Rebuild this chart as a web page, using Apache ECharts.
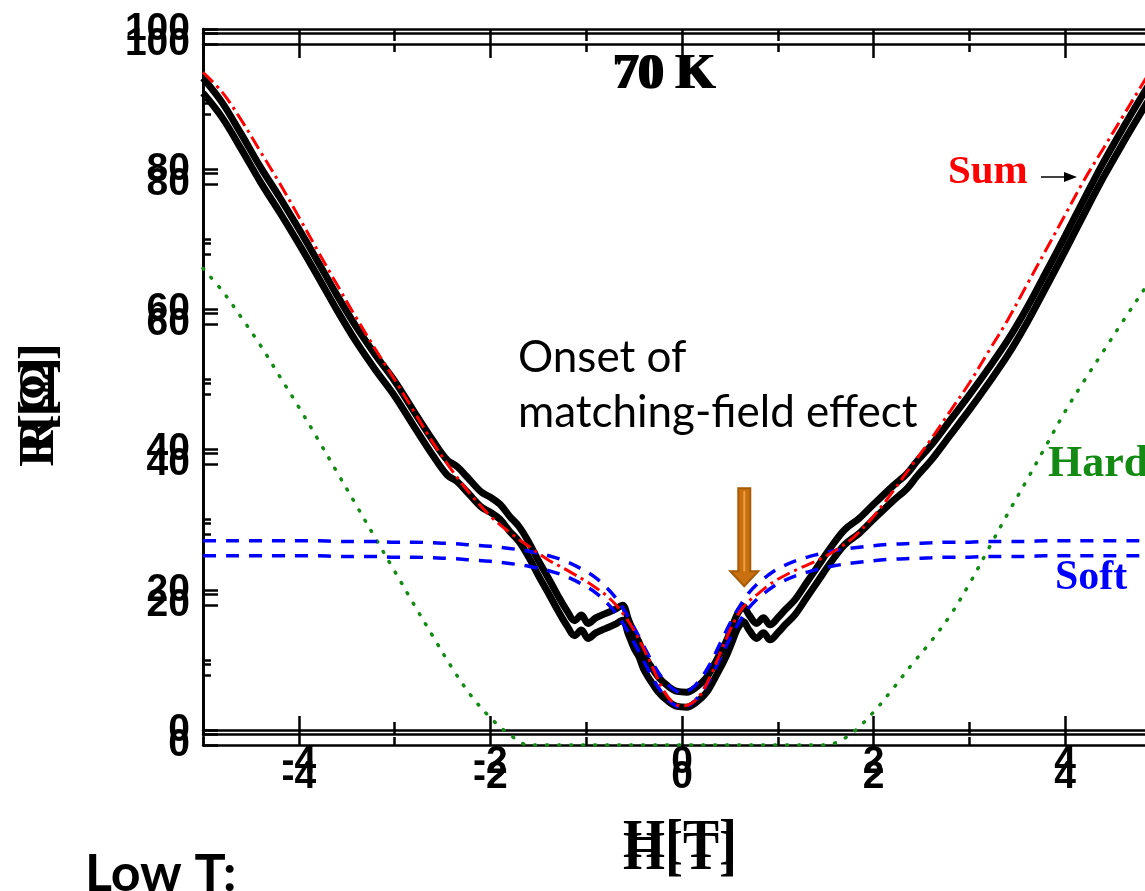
<!DOCTYPE html>
<html>
<head>
<meta charset="utf-8">
<script src="https://cdn.jsdelivr.net/npm/echarts@6/dist/echarts.min.js"></script>
<style>
html, body { margin: 0; padding: 0; background: #fff; overflow: hidden; }
/* the original figure is cut off on the right, so the chart is wider than the window */
#chart { width: 1180px; height: 891px; }
</style>
</head>
<body>
<div id="chart"></div>
<script>
// measured R(H) curve, black
var hMeas = [-5, -4.8, -4.6, -4.4, -4.2, -4, -3.8, -3.6, -3.4, -3.2, -3, -2.8, -2.6, -2.45, -2.35, -2.25, -2.1, -2.0, -1.9, -1.8, -1.7, -1.6, -1.5, -1.4, -1.3, -1.2, -1.12, -1.05, -0.98, -0.9, -0.8, -0.7, -0.62, -0.56, -0.5, -0.45, -0.4, -0.33, -0.25, -0.15, -0.05, 0.05, 0.15, 0.25, 0.33, 0.4, 0.46, 0.52, 0.58, 0.64, 0.7, 0.78, 0.85, 0.92, 1.0, 1.08, 1.18, 1.3, 1.42, 1.55, 1.7, 1.85, 2.0, 2.2, 2.35, 2.45, 2.6, 2.8, 3.0, 3.2, 3.4, 3.6, 3.8, 4.0, 4.2, 4.4, 4.6, 4.8, 5.0];
var rMeas = [93, 89.5, 85, 80.3, 76, 71.5, 66.8, 62, 57.5, 53.5, 49.8, 45.5, 41.3, 38.5, 37.6, 36.2, 34, 33.2, 32.2, 30.5, 29, 26.8, 24.2, 21.8, 19.3, 17, 15.6, 16.4, 15.2, 16, 16.6, 17.2, 17.8, 15.8, 13.8, 12.6, 10.8, 9.2, 7.6, 6.3, 5.5, 5.4, 6.1, 7.4, 9.2, 11, 12.6, 14.6, 16.6, 17.6, 16.4, 15.2, 16, 15, 16, 17.2, 18.6, 21, 23.4, 26, 28.6, 30.2, 32.2, 34.8, 36.6, 38.3, 40.6, 44.2, 47.8, 51.6, 55.6, 60.2, 65.3, 70.5, 75.8, 81, 85.8, 90.4, 94.8];

// fit curves: sum, soft part, hard part
var hFit = [-5, -4.8, -4.6, -4.4, -4.2, -4, -3.8, -3.6, -3.4, -3.2, -3, -2.8, -2.6, -2.4, -2.2, -2, -1.8, -1.6, -1.4, -1.2, -1, -0.9, -0.8, -0.7, -0.6, -0.5, -0.4, -0.3, -0.2, -0.1, 0, 0.1, 0.2, 0.3, 0.4, 0.5, 0.6, 0.7, 0.8, 0.9, 1, 1.2, 1.4, 1.6, 1.8, 2, 2.2, 2.4, 2.6, 2.8, 3, 3.2, 3.4, 3.6, 3.8, 4, 4.2, 4.4, 4.6, 4.8, 5];
var rSum = [93.8, 91, 87, 82.5, 78, 73.2, 68.3, 63.5, 58.8, 54.3, 50, 45.5, 41, 37, 33.5, 30.5, 28.2, 26.2, 24.3, 22.8, 21.2, 20.3, 19.3, 18, 16.3, 14.2, 11.6, 8.7, 5.8, 4.0, 3.4, 3.8, 5.2, 7.8, 11, 14.2, 16.8, 18.4, 19.5, 20.6, 21.5, 22.9, 24.1, 25.6, 27.6, 30.5, 34, 37.8, 41.5, 45.5, 49.5, 54, 58.5, 63.5, 68.5, 73.5, 78.5, 83, 87.5, 92, 96.5];
var rSoft = [27, 27, 27, 27, 27, 27, 27, 26.9, 26.9, 26.9, 26.8, 26.8, 26.7, 26.6, 26.4, 26.2, 25.9, 25.5, 24.9, 24.0, 22.6, 21.7, 20.5, 19.0, 17.0, 14.6, 12.0, 9.4, 7.3, 5.9, 5.3, 5.9, 7.4, 9.6, 12.4, 15.2, 17.6, 19.6, 21.0, 22.1, 23.0, 24.2, 25.0, 25.6, 26.0, 26.3, 26.5, 26.6, 26.7, 26.8, 26.8, 26.9, 26.9, 26.9, 27, 27, 27, 27, 27, 27, 27];
var rHard = [68, 64.8, 61, 57, 52.6, 48.2, 43.6, 38.9, 34.2, 29.5, 24.8, 20.1, 15.5, 11, 7, 3.9, 1.5, 0, 0, 0, 0, 0, 0, 0, 0, 0, 0, 0, 0, 0, 0, 0, 0, 0, 0, 0, 0, 0, 0, 0, 0, 0, 0, 0.3, 2, 4.7, 8, 11.5, 14.8, 18.5, 23, 28, 33, 37.8, 42.7, 47.6, 52, 56.2, 60.4, 64.5, 68.5];

// ticks
var xMajor = [-4, -2, 0, 2, 4];
var xMinor = [-5, -3, -1, 1, 3, 5];

function pairs (xs, ys) {
    return xs.map(function (x, i) { return [x, ys[i]] })
}

var chart = echarts.init(document.getElementById('chart'))

// the figure is printed twice (plus a faint third frame), slightly shifted
var frames = [
    { top: 29, labels: true },
    { top: 33, labels: false },
    { top: 44, labels: true }
]
var grid = [], xAxis = [], yAxis = []
var lineSt = { color: '#000', width: 2.5 }
var labelSt = { fontSize: 39, fontWeight: 'bold', fontFamily: 'Liberation Sans, Arial', color: '#000' }

frames.forEach(function (f, i) {
    grid.push({ left: 203, top: f.top, width: 958, height: 701 })
    ;['bottom', 'top'].forEach(function (pos) {
        xAxis.push({
            gridIndex: i, type: 'value', min: -5, max: 5, position: pos,
            axisLine: { onZero: false, lineStyle: lineSt },
            axisTick: { inside: true, length: 14, customValues: xMajor, lineStyle: lineSt },
            axisLabel: Object.assign({ show: f.labels && pos === 'bottom', margin: 13, customValues: xMajor }, labelSt),
            splitLine: { show: false }
        })
        xAxis.push({
            gridIndex: i, type: 'value', min: -5, max: 5, position: pos,
            axisLine: { show: false },
            axisTick: { inside: true, length: 8, customValues: xMinor, lineStyle: lineSt },
            axisLabel: { show: false },
            splitLine: { show: false }
        })
    })
    yAxis.push({
        gridIndex: i, type: 'value', min: 0, max: 100, interval: 20,
        axisLine: { show: true, onZero: false, lineStyle: lineSt },
        axisTick: { inside: true, length: 15, lineStyle: lineSt },
        minorTick: { show: true, splitNumber: 2, length: 8, lineStyle: lineSt },
        axisLabel: Object.assign({ show: f.labels, margin: 13 }, labelSt),
        splitLine: { show: false }
    })
})

function line (g, data, style, z) {
    return {
        type: 'line', xAxisIndex: g * 4, yAxisIndex: g, data: data,
        showSymbol: false, smooth: 0.35, lineStyle: style, z: z, silent: true
    }
}

var serif = 'Liberation Serif, Times New Roman, serif'
var sans = 'Lato, Open Sans, sans-serif'

var option = {
    animation: false,
    backgroundColor: '#fff',
    grid: grid,
    xAxis: xAxis,
    yAxis: yAxis,
    series: [
        line(2, pairs(hFit, rHard), { color: '#138a13', width: 3.5, type: [1, 11], cap: 'round' }, 2),
        line(0, pairs(hMeas, rMeas), { color: '#000', width: 7 }, 3),
        line(2, pairs(hMeas, rMeas), { color: '#000', width: 7 }, 3),
        line(0, pairs(hFit, rSoft), { color: '#0000ff', width: 3.5, type: [13, 10] }, 4),
        line(2, pairs(hFit, rSoft), { color: '#0000ff', width: 3.5, type: [13, 10] }, 4),
        line(0, pairs(hFit, rSum), { color: '#ff0000', width: 3, type: [14, 5, 3, 5] }, 5)
    ],
    graphic: [
        { type: 'text', x: 612, y: 50, style: { text: '70 K', font: 'bold 50px ' + serif, fill: '#000' } },
        { type: 'text', x: 615, y: 50, style: { text: '70 K', font: 'bold 50px ' + serif, fill: '#000' } },
        { type: 'text', x: 40, y: 398, rotation: Math.PI / 2, style: { text: 'R[Ω]', font: 'bold 50px ' + serif, fill: '#000', align: 'center', verticalAlign: 'middle' } },
        { type: 'text', x: 40, y: 412, rotation: Math.PI / 2, style: { text: 'R[Ω]', font: 'bold 50px ' + serif, fill: '#000', align: 'center', verticalAlign: 'middle' } },
        { type: 'text', x: 680, y: 816, style: { text: 'H[T]', font: 'bold 54px ' + serif, fill: '#000', align: 'center', verticalAlign: 'top' } },
        { type: 'text', x: 680, y: 828, style: { text: 'H[T]', font: 'bold 54px ' + serif, fill: '#000', align: 'center', verticalAlign: 'top' } },
        { type: 'text', x: 518, y: 358, style: { text: 'Onset of', font: '44px ' + sans, fill: '#000', verticalAlign: 'middle' } },
        { type: 'text', x: 518, y: 413, style: { text: 'matching-field effect', font: '44px ' + sans, fill: '#000', verticalAlign: 'middle' } },
        { type: 'text', x: 85, y: 848, style: { text: 'Low T:', font: 'bold 52px ' + sans, fill: '#000', verticalAlign: 'top' } },
        { type: 'text', x: 948, y: 172, style: { text: 'Sum', font: 'bold 41px ' + serif, fill: '#ff0000', verticalAlign: 'middle' } },
        { type: 'line', shape: { x1: 1041, y1: 177, x2: 1066, y2: 177 }, style: { stroke: '#000', lineWidth: 1.5 } },
        { type: 'polygon', shape: { points: [[1077, 177], [1064, 172], [1064, 182]] }, style: { fill: '#000' } },
        { type: 'text', x: 1048, y: 465, style: { text: 'Hard', font: 'bold 44px ' + serif, fill: '#138a13', verticalAlign: 'middle' } },
        { type: 'text', x: 1055, y: 578, style: { text: 'Soft', font: 'bold 42px ' + serif, fill: '#0000ff', verticalAlign: 'middle' } }
    ]
}
chart.setOption(option)

// orange arrow pointing at the onset, placed in data coordinates
var arrowAt = [0.65, 20.5]
var arrowFrom = 34.5
var tip = chart.convertToPixel({ gridIndex: 0 }, arrowAt)
var tail = chart.convertToPixel({ gridIndex: 0 }, [arrowAt[0], arrowFrom])
var headH = 15, shaftW = 6, headW = 14
chart.setOption({
    graphic: option.graphic.concat([
        {
            type: 'polygon', z: 10,
            shape: { points: [
                [tip[0] - shaftW, tail[1]], [tip[0] + shaftW, tail[1]],
                [tip[0] + shaftW, tip[1] - headH], [tip[0] + headW, tip[1] - headH],
                [tip[0], tip[1]],
                [tip[0] - headW, tip[1] - headH], [tip[0] - shaftW, tip[1] - headH]
            ] },
            style: { fill: '#c8700f', stroke: '#a85a05', lineWidth: 2 }
        },
        {
            type: 'line', z: 11,
            shape: { x1: tip[0], y1: tail[1] + 3, x2: tip[0], y2: tip[1] - headH },
            style: { stroke: '#f0a040', lineWidth: 2 }
        }
    ])
})
</script>
</body>
</html>
